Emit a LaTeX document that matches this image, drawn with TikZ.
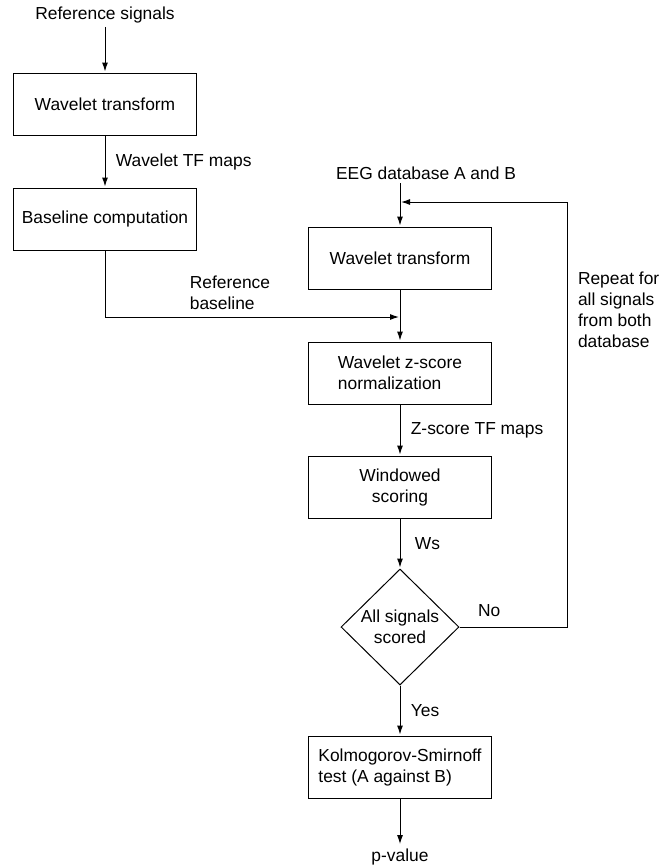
\documentclass[tikz,border=0pt]{standalone}
\usepackage{fontspec}
\setmainfont{Liberation Sans}
\usetikzlibrary{arrows.meta,shapes.geometric}

\begin{document}
\begin{tikzpicture}[->,>={Latex[length=9pt,width=6pt]},shorten >=1pt,x=1pt,y=-1pt,line width=1pt,
  every node/.style={font=\fontsize{17.4}{21}\selectfont},
  block/.style={rectangle,draw,minimum width=183pt,minimum height=62pt,align=center,inner sep=2pt},
  decision/.style={diamond,draw,aspect=1,minimum width=118pt,minimum height=116pt,inner sep=0pt,align=center},
  note/.style={right,xshift=7pt}]

  \useasboundingbox (0,0) rectangle (660,868);

  % reference branch
  \node[block] (wt1) at (105,104) {Wavelet transform};
  \node (refsig) [above of=wt1,node distance=89pt] {Reference signals};
  \node[block] (base) [below of=wt1,node distance=115pt] {Baseline computation};

  % EEG branch
  \node (eeg) at (426,173) {EEG database A and B};
  \node[block] (wt2) at (400,258) {Wavelet transform};
  \node[block,align=left] (zscore) [below of=wt2,node distance=115pt] {Wavelet z-score\\normalization};
  \node[block] (win) [below of=zscore,node distance=114pt] {Windowed\\scoring};
  \node[decision] (done) [below of=win,node distance=140pt] {All signals\\scored};
  \node[block,align=left] (ks) [below of=done,node distance=140pt] {Kolmogorov-Smirnoff\\test (A against B)};
  \node (pval) [below of=ks,node distance=90pt] {p-value};

  \coordinate (join) at (400,202);
  \coordinate (merge) at (400,317);
  \coordinate (rpt) at (567,627);

  \node[anchor=south west,align=left] (reflbl) at (186,313) {Reference\\baseline};
  \node[anchor=west,align=left,inner sep=1.5pt] (rptlbl) at (576,310) {Repeat for\\all signals\\from both\\database};

  \path
    (refsig) edge (wt1)
    (wt1) edge node[note] {Wavelet TF maps} (base)
    (wt2) edge (zscore)
    (zscore) edge node[note] {Z-score TF maps} (win)
    (win) edge node[note,xshift=4pt] {Ws} (done)
    (done) edge node[note] {Yes} (ks)
    (ks) edge (pval);

  \draw (eeg.south -| wt2.north) -- (wt2.north);
  \draw (base.south) |- (merge);
  \draw (done.east) -- node[above,xshift=-24pt,yshift=7pt] {No} (rpt) |- (join);
\end{tikzpicture}
\end{document}
